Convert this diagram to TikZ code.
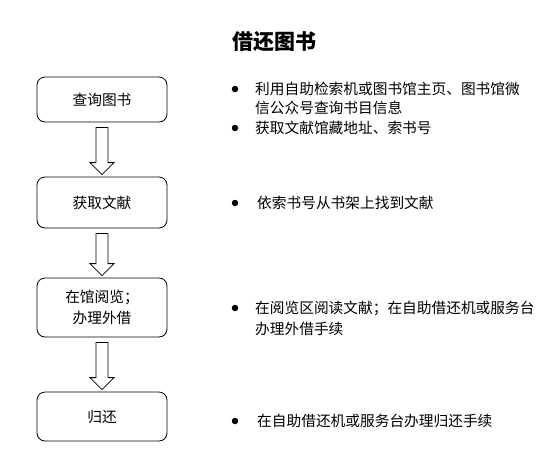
\documentclass[tikz,border=0pt]{standalone}
\usepackage{fontspec}
\setmainfont{Noto Sans CJK SC}
\usetikzlibrary{calc}
\tikzset{
  stepbox/.style={draw, line width=0.8pt, rounded corners=8pt, minimum width=130pt, inner sep=0pt, align=center, font=\fontsize{14.7}{20.5}\selectfont},
  blockarr/.style={draw, line width=0.8pt, fill=white},
  bullet/.style={circle, fill=black, inner sep=0pt, minimum size=6.5pt},
  itemtext/.style={anchor=west, inner sep=0pt, align=left, font=\fontsize{14.7}{19.5}\selectfont},
}
\newcommand\blockarrow[2]{%
  \draw[blockarr] ($(#1.south)+(-6,5)$) -- ($(#2.north)+(-6,-14)$) -- ($(#2.north)+(-12,-14)$)
    -- ($(#2.north)+(0,-2)$) -- ($(#2.north)+(12,-14)$) -- ($(#2.north)+(6,-14)$)
    -- ($(#1.south)+(6,5)$) -- cycle;}
\begin{document}
\begin{tikzpicture}[x=1pt,y=-1pt]
\useasboundingbox (0,0) rectangle (546,472);
\node[font=\fontsize{21}{24}\selectfont\bfseries] (title) at (274.5,42) {借还图书};

\node[stepbox, minimum height=45pt] (b1) at (102,99.5) {查询图书};
\node[stepbox, minimum height=51pt] (b2) at (102,202.5) {获取文献};
\node[stepbox, minimum height=59pt] (b3) at (102,307.5) {在馆阅览；\\办理外借};
\node[stepbox, minimum height=49pt] (b4) at (102,416.5) {归还};

\blockarrow{b1}{b2}
\blockarrow{b2}{b3}
\blockarrow{b3}{b4}

\node[bullet] (d1) at (235,89) {};
\node[itemtext] (t1) at (255,98.5) {利用自助检索机或图书馆主页、图书馆微\\信公众号查询书目信息};
\node[bullet] (d2) at (235,128) {};
\node[itemtext] (t2) at (255,128) {获取文献馆藏地址、索书号};
\node[bullet] (d3) at (235,203) {};
\node[itemtext] (t3) at (257,203) {依索书号从书架上找到文献};
\node[bullet] (d4) at (235,308) {};
\node[itemtext, font=\fontsize{14.7}{20.5}\selectfont] (t4) at (255,318.5) {在阅览区阅读文献；在自助借还机或服务台\\办理外借手续};
\node[bullet] (d5) at (235,421) {};
\node[itemtext] (t5) at (257,421) {在自助借还机或服务台办理归还手续};
\end{tikzpicture}
\end{document}
